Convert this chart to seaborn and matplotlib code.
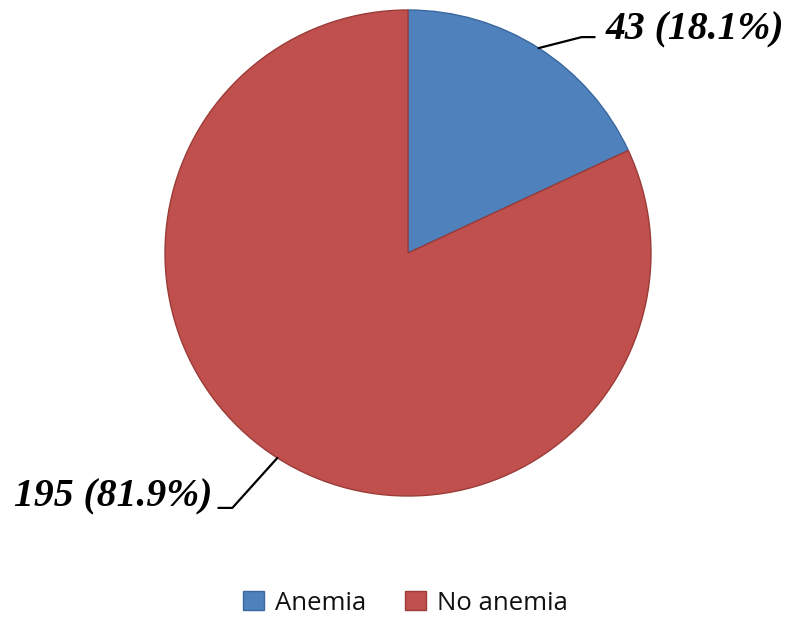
import numpy as np
import matplotlib
matplotlib.use("Agg")
import matplotlib.pyplot as plt
import seaborn as sns

categories = ["Anemia", "No anemia"]
counts = [43, 195]
percents = [18.1, 81.9]
colors = ["#4F81BD", "#C0504D"]
edge_colors = ["#3A679E", "#9B3B38"]

sns.set_theme(style="white")
plt.rcParams['font.family'] = ['DejaVu Sans']

W, H = 788, 619
fig = plt.figure(figsize=(W / 100, H / 100), dpi=100)
ax = fig.add_axes([0, 0, 1, 1])
R = 243.0
cx, cy = 408.0, 253.0

wedges, _ = ax.pie(counts, colors=colors, startangle=90, counterclock=False,
                   radius=1.0, center=(0, 0), frame=True,
                   wedgeprops=dict(linewidth=1.0))
for w, ec in zip(wedges, edge_colors):
    w.set_edgecolor(ec)
ax.set_xlim(-cx / R, (W - cx) / R)
ax.set_ylim(-(H - cy) / R, cy / R)
ax.set_aspect('equal')
ax.axis('off')

# labels with leader lines
total = sum(counts)
label_font = dict(family='Liberation Serif', weight='bold', style='italic', size=28.5, color='black')
start = 90.0
for i, (c, p) in enumerate(zip(counts, percents)):
    span = 360.0 * c / total
    mid = np.deg2rad(start - span / 2)
    start -= span
    ex, ey = np.cos(mid), np.sin(mid)
    if ex > 0:
        elbow = (ex + 43 / R, ey + 11 / R)
        end = (elbow[0] + 13 / R, elbow[1])
        ax.plot([ex, elbow[0], end[0]], [ey, elbow[1], end[1]], color='black', lw=1.6)
        ax.text(end[0] + 11 / R, end[1] + 7 / R, f"{c} ({p}%)", ha='left', va='center', **label_font)
    else:
        elbow = (ex - 45 / R, ey - 50 / R)
        end = (elbow[0] - 14 / R, elbow[1])
        ax.plot([ex, elbow[0], end[0]], [ey, elbow[1], end[1]], color='black', lw=1.6)
        ax.text(end[0] - 6 / R, end[1] + 11 / R, f"{c} ({p}%)", ha='right', va='center', **label_font)

leg = fig.legend(wedges, categories, loc='center', bbox_to_anchor=(0.515, 1 - 603 / H),
                 ncol=2, frameon=False, prop=dict(family='Open Sans', size=18.5),
                 handlelength=0.8, handleheight=0.8, columnspacing=1.5, handletextpad=0.45)
for t in leg.get_texts():
    t.set_color('#111111')

fig.savefig("out.png", dpi=100)
